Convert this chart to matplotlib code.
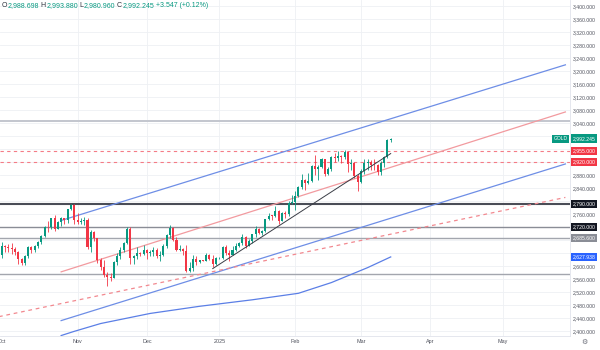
import matplotlib
matplotlib.use("Agg")
import matplotlib.pyplot as plt
import numpy as np
import pandas as pd
from matplotlib.transforms import blended_transform_factory

plt.rcParams['font.family'] = ['Liberation Sans', 'DejaVu Sans']

# ---- XAUUSD daily bars (Oct 2024 - Mar 2025) ----
bar_dates = pd.bdate_range("2024-10-01", "2025-03-14")
opens = [
    2634, 2663, 2657, 2656, 2653, 2643, 2622, 2608, 2630, 2657, 2649, 2662, 2674, 2693, 2721, 2720, 2748, 2715, 2736, 2747, 2742, 2774, 2788,
    2743, 2736, 2737, 2743, 2659, 2706, 2685, 2618, 2598, 2573, 2565, 2563, 2611, 2631, 2650, 2670, 2715, 2625, 2632, 2639, 2638,
    2650, 2640, 2643, 2650, 2632, 2633, 2660, 2694, 2718, 2680, 2648, 2652, 2646, 2586, 2594, 2622, 2613, 2617, 2616, 2634, 2621, 2606,
    2624, 2625, 2658, 2640, 2635, 2648, 2662, 2670, 2689, 2662, 2677, 2697, 2715, 2702, 2708, 2745, 2755, 2754, 2770, 2740, 2763, 2760, 2794,
    2798, 2815, 2842, 2866, 2856, 2861, 2908, 2898, 2905, 2928, 2882, 2898, 2935, 2933, 2939, 2936, 2952, 2915, 2916, 2876,
    2857, 2893, 2918, 2920, 2911, 2910, 2889, 2916, 2934, 2988.698,
]
highs = [
    2673, 2666, 2669, 2670, 2657, 2645, 2624, 2633, 2661, 2660, 2665, 2677, 2696, 2722, 2740, 2749, 2758, 2737, 2750, 2749, 2775, 2790, 2790,
    2763, 2748, 2750, 2749, 2711, 2709, 2686, 2626, 2618, 2580, 2578, 2615, 2639, 2658, 2674, 2721, 2721, 2633, 2657, 2644, 2666,
    2652, 2648, 2658, 2656, 2645, 2667, 2697, 2726, 2721, 2690, 2664, 2654, 2664, 2611, 2633, 2630, 2619, 2619, 2639, 2637, 2634, 2629,
    2628, 2660, 2665, 2650, 2660, 2671, 2675, 2698, 2692, 2683, 2699, 2724, 2716, 2710, 2746, 2763, 2758, 2786, 2772, 2765, 2770, 2799, 2817,
    2830, 2845, 2882, 2869, 2886, 2911, 2942, 2910, 2931, 2929, 2905, 2938, 2947, 2955, 2943, 2957, 2954, 2930, 2921, 2882,
    2899, 2928, 2930, 2926, 2930, 2913, 2923, 2940, 2990, 2993.880,
]
lows = [
    2625, 2643, 2644, 2637, 2635, 2605, 2604, 2603, 2625, 2640, 2643, 2656, 2669, 2690, 2705, 2714, 2708, 2713, 2724, 2728, 2731, 2771, 2730,
    2730, 2728, 2725, 2652, 2643, 2677, 2610, 2589, 2565, 2537, 2554, 2562, 2603, 2623, 2643, 2668, 2605, 2605, 2622, 2630, 2634,
    2622, 2632, 2631, 2624, 2614, 2630, 2654, 2686, 2678, 2645, 2645, 2635, 2583, 2583, 2585, 2603, 2609, 2614, 2616, 2617, 2597, 2603,
    2620, 2623, 2634, 2615, 2633, 2645, 2659, 2664, 2656, 2660, 2670, 2690, 2697, 2695, 2706, 2742, 2741, 2751, 2730, 2737, 2749, 2754, 2790,
    2772, 2811, 2836, 2834, 2852, 2859, 2880, 2864, 2902, 2876, 2880, 2892, 2919, 2923, 2918, 2930, 2890, 2895, 2871, 2832,
    2856, 2883, 2895, 2895, 2896, 2880, 2880, 2905, 2932, 2980.960,
]
closes = [
    2663, 2657, 2656, 2653, 2643, 2622, 2608, 2630, 2657, 2649, 2662, 2674, 2693, 2721, 2720, 2748, 2715, 2736, 2747, 2742, 2774, 2788, 2743,
    2736, 2737, 2743, 2659, 2706, 2685, 2618, 2598, 2573, 2565, 2563, 2611, 2631, 2650, 2670, 2715, 2625, 2632, 2639, 2638, 2650,
    2640, 2643, 2650, 2632, 2633, 2660, 2694, 2718, 2680, 2648, 2652, 2646, 2586, 2594, 2622, 2613, 2617, 2616, 2634, 2621, 2606, 2624,
    2625, 2658, 2640, 2635, 2648, 2662, 2670, 2689, 2662, 2677, 2697, 2715, 2702, 2708, 2745, 2755, 2754, 2770, 2740, 2763, 2760, 2794, 2798,
    2815, 2842, 2866, 2856, 2861, 2908, 2898, 2905, 2928, 2882, 2898, 2935, 2933, 2939, 2936, 2952, 2915, 2916, 2876, 2857,
    2893, 2918, 2920, 2911, 2910, 2889, 2916, 2934, 2988.698, 2992.245,
]

# session axis incl. empty space to the right
axis_dates = pd.bdate_range("2024-10-01", "2025-05-30")
month_starts = ["2024-10-01", "2024-11-01", "2024-12-02", "2025-01-01",
                "2025-02-03", "2025-03-03", "2025-04-01", "2025-05-01"]
month_labels = ["Oct", "Nov", "Dec", "2025", "Feb", "Mar", "Apr", "May"]
price_ticks = np.arange(2400, 3401, 40)

# moving average readings
ma_dates = ["2024-10-25", "2024-10-31", "2024-11-12", "2024-12-03", "2024-12-24",
            "2025-01-15", "2025-02-04", "2025-02-18", "2025-03-05", "2025-03-14"]
ma_values = [2386, 2399, 2423, 2454, 2476, 2496, 2516, 2549, 2595, 2627.938]

# drawn tools: (start date, start price, end date, end price)
channel_upper = ("2024-10-25", 2740, "2025-05-28", 3219)
channel_mid = ("2024-10-25", 2582, "2025-05-28", 3074)
channel_lower = ("2024-10-25", 2432, "2025-05-28", 2914)
dashed_support = ("2024-10-01", 2446, "2025-05-28", 2811)
trend_line = ("2024-12-30", 2592, "2025-03-14", 2946)

levels_solid = [3047, 2790, 2720, 2685.6, 2574]
levels_dashed = [2955, 2920]

# price tags on the scale: (price, colour)
tag_prices = [2992.245, 2955, 2920, 2790, 2720, 2685.6, 2627.938]
tag_colors = ["#089981", "#f23645", "#f23645", "#131722", "#131722", "#8a8d96", "#2962ff"]

UP = "#089981"
DOWN = "#f23645"


def pos(d):
    return axis_dates.get_loc(pd.Timestamp(d))


fig = plt.figure(figsize=(6, 3.5), dpi=100)
fig.patch.set_facecolor("white")
ax = fig.add_axes([0, 14 / 350, 570 / 600, 336 / 350])
ax.set_xlim(-0.55, 172.4)
ax.set_ylim(2384.6, 3418.5)

# grid
for p in price_ticks:
    ax.axhline(p, color="#eef0f4", lw=0.6, zorder=0)
for d in month_starts[1:]:
    ax.axvline(pos(d), color="#eef0f4", lw=0.6, zorder=0)

# horizontal levels
ax.axhline(levels_solid[0], color="#c3c6ce", lw=1.4, zorder=1)
ax.axhline(levels_solid[1], color="#4a4d57", lw=1.5, zorder=1)
ax.axhline(levels_solid[2], color="#8a8d96", lw=1.0, zorder=1)
ax.axhline(levels_solid[3], color="#a3a6ae", lw=1.0, zorder=1)
ax.axhline(levels_solid[4], color="#a3a6ae", lw=1.0, zorder=1)
for lv in levels_dashed:
    ax.axhline(lv, color="#f47c86", lw=0.8, ls=(0, (3, 3)), zorder=1)


def seg(tool, **kw):
    d0, p0, d1, p1 = tool
    ax.plot([pos(d0), pos(d1)], [p0, p1], **kw)


def extend_left(tool, **kw):
    d0, p0, d1, p1 = tool
    x0, x1 = pos(d0), pos(d1)
    slope = (p1 - p0) / (x1 - x0)
    xs = np.array([-1.0, x1])
    ax.plot(xs, p0 + slope * (xs - x0), **kw)


# channel and trend lines
seg(channel_upper, color="#6e8ee6", lw=0.9, zorder=2)
seg(channel_lower, color="#6e8ee6", lw=0.9, zorder=2)
seg(channel_mid, color="#f29a9f", lw=0.9, zorder=2)
extend_left(dashed_support, color="#f2888f", lw=0.9, ls=(0, (3, 3)), zorder=2)
seg(trend_line, color="#3a3d46", lw=0.7, zorder=4)

# moving average
ax.plot([pos(d) for d in ma_dates], ma_values, color="#5b7fe6", lw=0.9, zorder=2)

# candles
xs = np.array([pos(d) for d in bar_dates])
o = np.array(opens, float)
h = np.array(highs, float)
l = np.array(lows, float)
c = np.array(closes, float)
cols = np.where(c >= o, UP, DOWN)
ax.vlines(xs, l, h, colors=cols, lw=0.6, zorder=3)
body_lo = np.minimum(o, c)
body_h = np.maximum(np.abs(c - o), 1.5)
ax.bar(xs, body_h, bottom=body_lo, width=0.62, color=cols, lw=0, zorder=3)

# axes styling
for s in ["top", "left"]:
    ax.spines[s].set_visible(False)
for s in ["right", "bottom"]:
    ax.spines[s].set_color("#e0e3eb")
    ax.spines[s].set_linewidth(0.6)

# price scale: ticks hidden under a tag are left out
shown_ticks = [p for p in price_ticks
               if min(abs(p - t) for t in tag_prices) > 14]
ax.yaxis.tick_right()
ax.set_yticks(shown_ticks)
ax.set_yticklabels([f"{p:,.3f}" for p in shown_ticks])
ax.tick_params(axis="y", length=0, pad=2.2, labelsize=3.7, labelcolor="#50535e")
ax.set_xticks([pos(d) for d in month_starts])
ax.set_xticklabels(month_labels)
ax.tick_params(axis="x", length=0, pad=2.5, labelsize=3.9, labelcolor="#50535e")

tr = blended_transform_factory(ax.transAxes, ax.transData)
for price, col in zip(tag_prices, tag_colors):
    ax.text(1.005, price, f"{price:,.3f}", transform=tr, ha="left", va="center",
            fontsize=3.7, color="white",
            bbox=dict(boxstyle="square,pad=0.3", fc=col, ec="none"),
            clip_on=False, zorder=10)
ax.text(0.996, tag_prices[0], "GOLD", transform=tr, ha="right", va="center",
        fontsize=3.6, color="white",
        bbox=dict(boxstyle="square,pad=0.3", fc=UP, ec="none"),
        clip_on=False, zorder=10)

# OHLC header
fig.canvas.draw()
renderer = fig.canvas.get_renderer()
dark = "#2a2e39"
pieces = [("O", dark), ("2,988.698", UP), (" H", dark), ("2,993.880", UP),
          (" L", dark), ("2,980.960", UP), (" C", dark), ("2,992.245", UP),
          (" +3.547 (+0.12%)", UP)]
x_px = 2.0
for txt, col in pieces:
    t = fig.text(x_px / 600, 1 - 5.5 / 350, txt, fontsize=5.0, color=col,
                 ha="left", va="center")
    bb = t.get_window_extent(renderer)
    x_px += bb.width

# settings glyph under the price scale
fig.text(584 / 600, 1 - 342 / 350, "\u2699", fontsize=5, color="#6a6d78",
         ha="center", va="center", family=["DejaVu Sans"])

fig.savefig("out.png", dpi=100, facecolor="white")
